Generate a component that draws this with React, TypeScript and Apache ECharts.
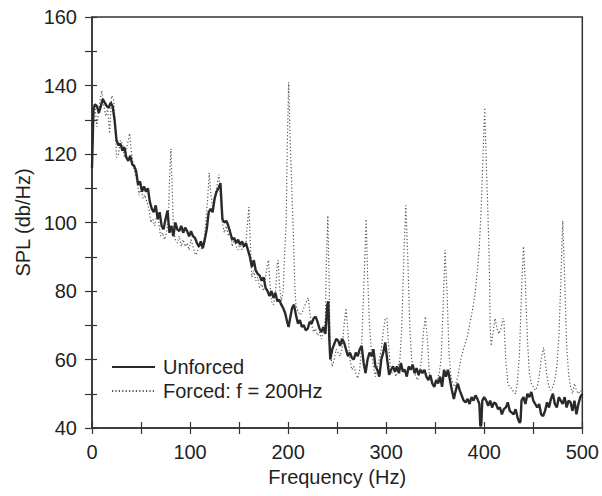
import React, { useEffect, useRef } from "react";
import * as echarts from "echarts";

// Frequency (Hz) / SPL (dB/Hz) pairs
const unforced: [number, number][] = [
  [0, 116], [1.5, 133], [3, 134.5], [5, 134], [7, 132], [9, 134], [11, 136], [13, 135], [15, 134], [17, 133.5],
  [19, 135], [21, 134], [23, 130], [25, 124], [27, 122.5], [29, 123], [31, 121], [33, 122], [35, 119], [37, 118],
  [39, 119.5], [41, 117], [43, 116.5], [45, 115], [47, 111], [49, 112], [51, 109], [53, 110.5], [55, 109], [57, 110],
  [59, 106], [61, 104], [63, 103], [65, 105], [67, 101], [69, 103], [71, 99], [73, 98], [75, 101], [77, 103.5],
  [79, 97], [81, 99], [83, 96], [85, 100], [87, 98], [89, 97.5], [91, 99], [93, 97], [95, 98.5], [97, 97.5],
  [99, 96], [101, 97.5], [103, 96], [105, 95.5], [107, 94], [109, 93], [111, 94.5], [113, 92.5], [115, 95], [117, 98],
  [119, 103], [121, 104], [123, 103], [125, 107], [127, 109], [129, 110], [131, 111.5], [132, 106], [133, 101], [135, 100],
  [137, 100.5], [139, 99], [141, 97], [143, 95], [145, 95.5], [147, 94], [149, 95], [151, 93.5], [153, 94.5], [155, 93],
  [157, 94], [159, 92], [161, 90], [163, 87], [165, 89], [167, 86], [169, 85], [171, 84.5], [173, 83], [175, 84],
  [177, 81], [179, 80], [181, 78.5], [183, 80], [185, 78], [187, 79.5], [189, 77], [191, 77.5], [193, 76], [195, 75],
  [197, 73.5], [199, 71], [200.5, 69.5], [202, 72], [204, 75], [206, 76], [208, 73], [210, 70.5], [212, 71.5], [214, 69.5],
  [216, 70], [218, 68.5], [220, 69], [222, 71], [224, 70.5], [226, 72], [228, 72.5], [230, 71], [232, 69], [234, 68],
  [236, 69.5], [238, 67.5], [240, 76], [241, 77], [242, 66], [243, 60], [245, 63], [247, 64.5], [249, 66], [251, 65.5],
  [253, 64], [255, 66], [257, 65], [259, 63], [261, 61], [263, 62], [265, 60.5], [267, 60], [269, 62], [271, 61],
  [273, 63], [275, 64], [277, 59], [279, 56], [281, 60], [283, 62], [285, 61], [287, 63], [289, 58], [291, 57],
  [293, 55], [295, 60], [297, 62], [299, 65], [301, 60], [303, 55.5], [305, 57], [307, 58], [309, 56.5], [311, 58],
  [313, 56], [315, 59], [317, 56.5], [319, 57], [321, 55], [323, 58], [325, 57], [327, 58.5], [329, 56], [331, 57.5],
  [333, 55.5], [335, 57], [337, 56], [339, 57], [341, 55], [343, 54], [345, 55.5], [347, 53], [349, 52], [351, 54],
  [353, 53], [355, 55], [357, 52], [359, 57], [361, 55], [363, 57], [365, 54], [367, 51], [369, 48.5], [371, 51],
  [373, 53], [375, 51], [377, 49.5], [379, 48], [381, 47.5], [383, 48.5], [385, 47], [387, 49], [389, 48], [391, 49.5],
  [393, 48.5], [395, 47], [396, 40.5], [397, 41], [398, 48], [400, 49], [402, 48], [404, 46.5], [406, 48], [408, 46],
  [410, 47.5], [412, 47], [414, 45.5], [416, 46], [418, 44], [420, 45.5], [422, 46], [424, 47.5], [426, 45], [428, 44.5],
  [430, 44], [432, 45.5], [434, 43], [436, 41.5], [437, 42], [438, 48], [440, 49], [442, 47], [444, 50], [446, 49],
  [448, 50.5], [450, 48], [452, 47], [454, 46], [456, 47], [458, 44], [460, 43.5], [462, 45], [464, 47.5], [466, 46],
  [468, 48.5], [470, 50], [472, 47], [474, 46], [476, 49], [478, 48], [480, 47], [482, 49], [484, 46], [486, 48],
  [488, 47.5], [490, 45], [492, 48], [494, 44], [496, 47], [498, 49], [500, 50],
];

const forced: [number, number][] = [
  [0, 118], [1.5, 130], [3, 134], [5, 128], [7, 133], [9, 137], [10, 138.5], [12, 134], [14, 131], [16, 133],
  [18, 126], [20, 137], [22, 136], [24, 128], [25, 119], [27, 120], [29, 124], [31, 123], [33, 119], [35, 121],
  [37, 124], [38.5, 126], [40, 121], [42, 117], [44, 114], [46, 112], [48, 108], [50, 110], [52, 107], [54, 108],
  [56, 106], [58, 104], [60, 100], [62, 101], [64, 99], [66, 102], [68, 100], [70, 96], [72, 97], [74, 95],
  [76, 97], [78, 102], [79, 112], [80.5, 121.5], [82, 108], [83, 98], [85, 95], [87, 94], [89, 96], [91, 93],
  [93, 95], [95, 93], [97, 94], [99, 92], [101, 95], [103, 93], [105, 91], [106, 90.5], [108, 92], [110, 94],
  [112, 92], [114, 94], [116, 100], [118, 107], [119.5, 114.5], [121, 109], [123, 104], [125, 106], [127, 110], [129.5, 114],
  [131, 108], [133, 100], [135, 97], [137, 99], [139, 96], [141, 98], [143, 93], [145, 95], [147, 93], [149, 92],
  [151, 94], [153, 92], [155, 93], [157, 94], [158, 98], [160, 104.5], [161, 97], [163, 84], [165, 86], [167, 83],
  [169, 84], [171, 81], [173, 82], [175, 80], [177, 84], [179, 88], [180, 89], [181, 84], [183, 77], [185, 76],
  [187, 79], [189, 88], [190, 89], [191, 82], [193, 77], [195, 80], [196, 88], [198, 100], [199, 120], [200.5, 141],
  [202, 125], [204, 108], [205.5, 95], [207, 80], [208, 76], [210, 74], [212, 73], [214, 73.5], [216, 75], [218, 76.5],
  [220.5, 78], [222, 74], [224, 70], [226, 68], [228, 69], [230, 67], [232, 68], [234, 66], [236, 68], [238, 72],
  [239, 88], [240.5, 102], [242, 80], [243, 62], [245, 58], [247, 60], [249, 63], [251, 62], [253, 61], [255, 63],
  [257, 70], [259, 75], [261, 68], [263, 60], [265, 57], [267, 58], [269, 56], [271, 54.5], [273, 57], [275, 64],
  [277, 80], [279.6, 101], [281, 85], [283, 70], [285, 62], [287, 58], [289, 55], [291, 58], [293, 60], [295, 63],
  [297, 68], [299, 72], [300.8, 72], [302, 66], [304, 58], [306, 56], [308, 57], [310, 55], [312, 58], [314, 60],
  [316, 70], [318, 90], [320, 105], [322, 90], [324, 70], [326, 60], [328, 57], [330, 55], [332, 54], [334, 56],
  [336, 60], [338, 68], [340, 72.5], [342, 66], [344, 56], [346, 54], [348, 53], [350, 52], [352, 54], [354, 56],
  [356, 60], [358, 75], [360, 92], [362, 80], [364, 62], [366, 55], [368, 53], [370, 52], [373, 55], [376, 60],
  [379.5, 63.7], [383, 67], [386, 71.5], [389, 76], [391, 80], [393, 86], [395, 93], [397, 105], [399, 122], [400.5, 133.5],
  [402, 118], [403.5, 105], [405, 90], [406, 70], [407, 64], [409, 68], [411, 72], [413, 69], [415, 67.5], [417, 69],
  [419, 72], [420, 71.5], [422, 60], [424, 53], [426, 52], [428, 51.5], [430, 50.5], [432, 50], [434, 54], [436, 62],
  [438, 80], [440, 93], [442, 82], [444, 66], [446, 56], [448, 53], [450, 52], [452, 51], [454, 52], [456, 55],
  [458, 60], [460.5, 63.5], [462, 60], [464, 55], [466, 52], [468, 51], [470, 52], [472, 54], [474, 58], [476, 66],
  [478, 82], [480, 100.5], [482, 84], [484, 64], [486, 56], [488, 52], [490, 50], [492, 53], [494, 51], [496, 50],
  [498, 51], [500, 50],
];

const seriesNames = ["Unforced", "Forced: f = 200Hz"];
const xRange = [0, 500];
const yRange = [40, 160];

const FONT = "'Liberation Sans', Arial, Helvetica, sans-serif";
const TEXT = "#1f1f1f";
const AXIS = "#333333";

export default function App() {
  const ref = useRef<HTMLDivElement>(null);
  useEffect(() => {
    if (!ref.current) return;
    document.body.style.margin = "0";
    const chart = echarts.init(ref.current, undefined, { renderer: "svg" });
    const tickStyle = { color: AXIS, width: 1.2 };
    const labelStyle = { fontSize: 20, color: TEXT, fontFamily: FONT };
    chart.setOption({
      animation: false,
      backgroundColor: "#ffffff",
      textStyle: { fontFamily: FONT, color: TEXT },
      grid: {
        left: 92, right: 16, top: 17, bottom: 68,
        show: true, borderColor: AXIS, borderWidth: 1.5,
      },
      legend: {
        data: seriesNames,
        orient: "vertical",
        left: 106,
        top: 352,
        itemWidth: 43,
        itemHeight: 14,
        itemGap: 4,
        itemStyle: { opacity: 0 },
        textStyle: { ...labelStyle, padding: [0, 0, 0, 3] },
      },
      xAxis: [
        {
          type: "value", min: xRange[0], max: xRange[1], interval: 100,
          name: "Frequency (Hz)", nameLocation: "middle", nameGap: 36,
          nameTextStyle: labelStyle,
          axisLine: { lineStyle: { color: AXIS, width: 1.5 } },
          axisTick: { show: true, inside: false, length: 6, lineStyle: tickStyle },
          minorTick: { show: true, splitNumber: 2, length: 6, lineStyle: tickStyle },
          splitLine: { show: false },
          axisLabel: { ...labelStyle, margin: 14 },
        },
        {
          type: "value", min: xRange[0], max: xRange[1], interval: 100, position: "bottom",
          axisLine: { show: false },
          axisTick: { show: true, inside: true, length: 6, lineStyle: tickStyle },
          minorTick: { show: true, splitNumber: 2, length: 6, lineStyle: tickStyle },
          splitLine: { show: false },
          axisLabel: { show: false },
        },
      ],
      yAxis: [
        {
          type: "value", min: yRange[0], max: yRange[1], interval: 20,
          name: "SPL (db/Hz)", nameLocation: "middle", nameGap: 57, nameRotate: 90,
          nameTextStyle: labelStyle,
          axisLine: { show: true, lineStyle: { color: AXIS, width: 1.5 } },
          axisTick: { show: true, inside: false, length: 7, lineStyle: tickStyle },
          minorTick: { show: true, splitNumber: 2, length: 7, lineStyle: tickStyle },
          splitLine: { show: false },
          axisLabel: { ...labelStyle, margin: 15 },
        },
        {
          type: "value", min: yRange[0], max: yRange[1], interval: 20, position: "left",
          axisLine: { show: false },
          axisTick: { show: true, inside: true, length: 5, lineStyle: tickStyle },
          minorTick: { show: true, splitNumber: 2, length: 5, lineStyle: tickStyle },
          splitLine: { show: false },
          axisLabel: { show: false },
        },
      ],
      series: [
        {
          name: seriesNames[0],
          type: "line",
          data: unforced,
          symbol: "none",
          z: 3,
          lineStyle: { color: "#2a2a2a", width: 2.4 },
          itemStyle: { color: "#2a2a2a" },
        },
        {
          name: seriesNames[1],
          type: "line",
          data: forced,
          symbol: "none",
          z: 2,
          lineStyle: { color: "#555555", width: 1.2, type: [1.2, 2.2] },
          itemStyle: { color: "#555555" },
        },
      ],
    });
    return () => chart.dispose();
  }, []);
  return <div ref={ref} style={{ width: 602, height: 496 }} />;
}
